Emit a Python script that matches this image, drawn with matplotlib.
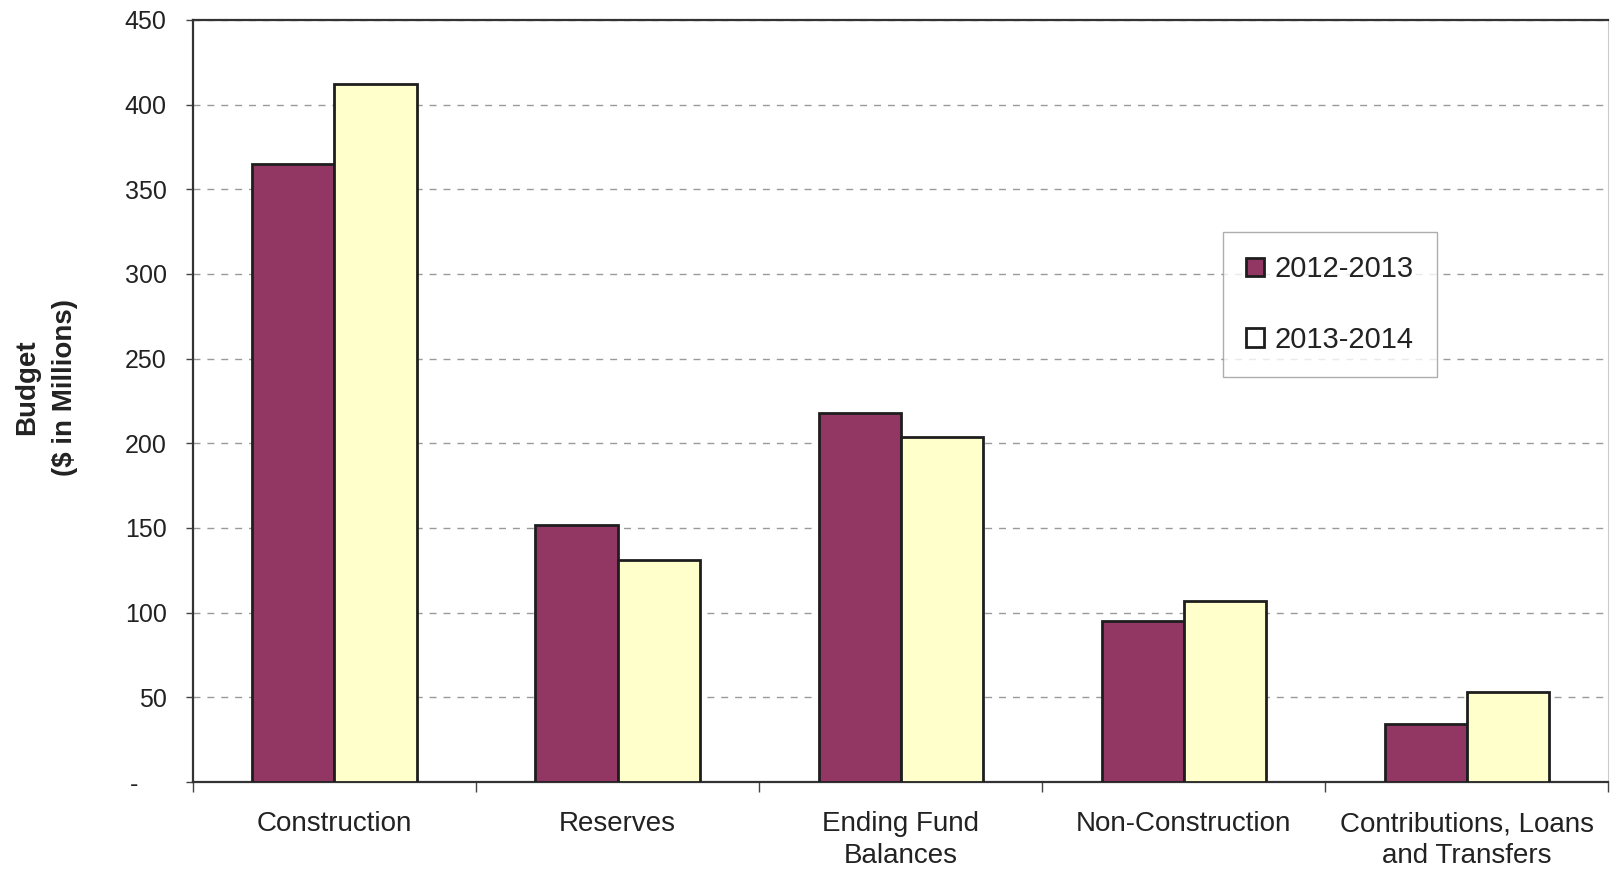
import numpy as np
import matplotlib
matplotlib.use('Agg')
import matplotlib.pyplot as plt
from matplotlib.ticker import FixedLocator, FuncFormatter

# Budget by category ($ in millions)
categories = ['Construction', 'Reserves', 'Ending Fund\nBalances',
              'Non-Construction', 'Contributions, Loans\nand Transfers']
budget_2012 = [365, 152, 218, 95, 34]
budget_2013 = [412, 131, 204, 107, 53]
series_names = ['2012-2013', '2013-2014']

plt.rcParams['font.family'] = ['Liberation Sans', 'DejaVu Sans']
text_col = '#222222'

fig = plt.figure(figsize=(16.12, 8.72), dpi=100)
ax = fig.add_axes([0.1197, 0.1032, 0.878, 0.874])

x = np.arange(len(categories))
w = 0.29
ax.bar(x - w / 2, budget_2012, width=w, color='#923663', edgecolor='#1e1e1e',
       linewidth=2, label=series_names[0], zorder=3)
ax.bar(x + w / 2, budget_2013, width=w, color='#FFFFCC', edgecolor='#1e1e1e',
       linewidth=2, label=series_names[1], zorder=3)

ax.set_xlim(-0.5, len(categories) - 0.5)
ax.set_ylim(0, 450)
ax.set_yticks(np.arange(0, 451, 50))
ax.yaxis.set_major_formatter(FuncFormatter(lambda v, p: '-    ' if v == 0 else f'{v:.0f}'))
ax.yaxis.grid(True, linestyle=(0, (5, 5)), color='#9a9a9a', linewidth=1, zorder=0)

# boundary ticks (major) and centred labels (minor)
ax.xaxis.set_major_locator(FixedLocator(np.arange(-0.5, len(categories), 1.0)))
ax.xaxis.set_major_formatter(FuncFormatter(lambda v, p: ''))
ax.xaxis.set_minor_locator(FixedLocator(x))
ax.set_xticklabels(categories, minor=True, linespacing=1.3)
ax.tick_params(axis='x', which='major', length=7, width=1, color='#444444')
ax.tick_params(axis='x', which='minor', length=0, pad=21, labelsize=20, labelcolor=text_col)
ax.tick_params(axis='y', length=5, width=1, color='#444444', pad=14,
               labelsize=18, labelcolor=text_col)

for side in ['left', 'bottom', 'top']:
    ax.spines[side].set_color('#333333')
    ax.spines[side].set_linewidth(1.6)
ax.spines['right'].set_color('#cccccc')

ax.set_ylabel('Budget\n($ in Millions)', fontsize=20, fontweight='bold',
              color=text_col, linespacing=1.6, va='center')
ax.yaxis.set_label_coords(-0.104, 0.518)

leg = ax.legend(loc='upper left', bbox_to_anchor=(0.7587, 0.734),
                bbox_transform=fig.transFigure, fontsize=21, frameon=True,
                fancybox=False, edgecolor='#999999', handlelength=0.6,
                handleheight=0.6, handletextpad=0.35, labelspacing=1.45,
                borderpad=0.8, borderaxespad=0)
leg.get_frame().set_linewidth(1)
leg.legend_handles[1].set_facecolor('white')
for t in leg.get_texts():
    t.set_color(text_col)

fig.savefig('out.png', dpi=100)
